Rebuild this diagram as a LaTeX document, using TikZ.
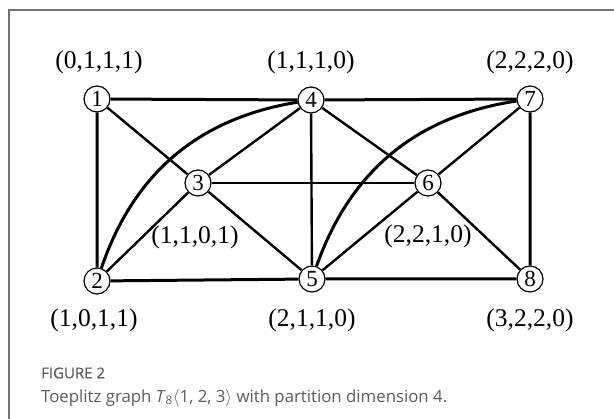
\documentclass[tikz,border=0pt]{standalone}
\usepackage{fontspec}
\setmainfont{Liberation Serif}
\newfontfamily\capfont{Open Sans}
\newfontfamily\figfont[FakeBold=0.6]{Open Sans}
\usepackage{xcolor}
\usepackage{tikz}
\definecolor{framegray}{HTML}{737373}
\definecolor{capgray}{HTML}{5C5C5C}

\begin{document}
\begin{tikzpicture}[x=1pt, y=-1pt,
        vertex/.style={draw, circle, fill=white, line width=1.2pt, minimum size=26pt, inner sep=0pt, font=\fontsize{23}{23}\selectfont},
        coord/.style={font=\fontsize{25.5}{25.5}\selectfont},
        rim/.style={line width=3pt},
        edge/.style={line width=2.4pt}]
        \useasboundingbox (0,0) rectangle (614,419);
        % 外框
        \draw [framegray,line width=1.5pt] (9,419) -- (9,10) -- (614,10);
        % 顶点
        \node [vertex] (v1) at (97,99) {1};
        \node [vertex] (v2) at (97,281) {2};
        \node [vertex] (v3) at (198,183) {3};
        \node [vertex] (v4) at (311,100) {4};
        \node [vertex] (v5) at (312,279) {5};
        \node [vertex] (v6) at (428,183) {6};
        \node [vertex] (v7) at (530,99) {7};
        \node [vertex] (v8) at (530,279) {8};
        % 外圈的边
        \draw [rim] (v1) -- (v4) -- (v7) -- (v8) -- (v5) -- (v2) -- (v1);
        \draw [rim] (v2) to[bend left=31] (v4);
        \draw [rim] (v5) to[bend left=31] (v7);
        % 内部的边
        \draw [edge] (v1) -- (v3) -- (v5);
        \draw [edge] (v2) -- (v3) -- (v4);
        \draw [edge] (v3) -- (v6);
        \draw [edge] (v4) -- (v5);
        \draw [edge] (v4) -- (v6) -- (v8);
        \draw [edge] (v5) -- (v6) -- (v7);
        % 分划表示
        \node [coord] (c1) at (99,62) {(0,1,1,1)};
        \node [coord] (c4) at (311,62) {(1,1,1,0)};
        \node [coord] (c7) at (530,62) {(2,2,2,0)};
        \node [coord] (c3) at (195,237) {(1,1,0,1)};
        \node [coord] (c6) at (428,236) {(2,2,1,0)};
        \node [coord] (c2) at (94,320) {(1,0,1,1)};
        \node [coord] (c5) at (312,320) {(2,1,1,0)};
        \node [coord] (c8) at (530,320) {(3,2,2,0)};
        % 图注
        \node [anchor=west,inner sep=0pt,text=capgray,font=\figfont\fontsize{15}{15}\selectfont] (fig) at (41,373) {FIGURE 2};
        \node [anchor=west,inner sep=0pt,text=capgray,font=\capfont\fontsize{16.8}{16.8}\selectfont] (cap) at (41,398) {Toeplitz graph \textit{T}\textsubscript{8}$\langle$1, 2, 3$\rangle$ with partition dimension 4.};
    \end{tikzpicture}
\end{document}
